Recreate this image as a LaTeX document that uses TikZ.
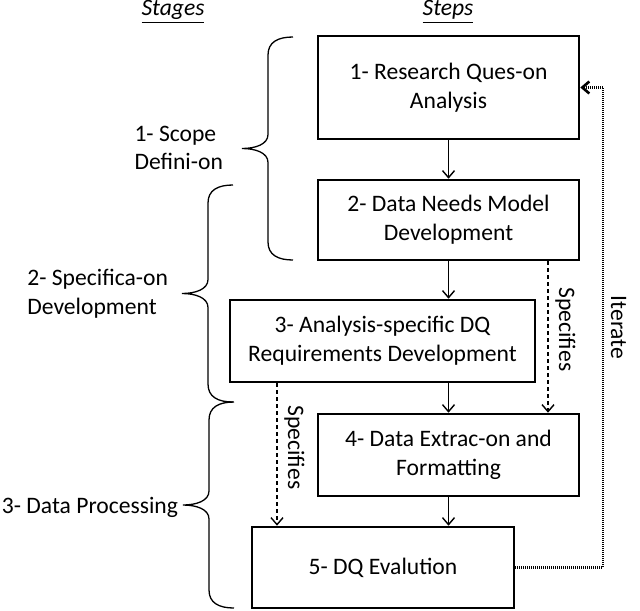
\documentclass[tikz,border=0pt]{standalone}
\usepackage{fontspec}
\setmainfont{Carlito}
\usetikzlibrary{arrows.meta,calc,positioning}

\begin{document}
\begin{tikzpicture}[x=0.5pt, y=-0.5pt, every node/.style={font=\fontsize{11.8}{14.4}\selectfont}]
  % Define styles
  \tikzset{stepbox/.style={draw, line width=1.3pt, align=center, inner sep=0pt},
           flow/.style={line width=0.7pt, -{Straight Barb[length=3.5pt,width=6pt]}},
           spec/.style={flow, dash pattern=on 2pt off 1.5pt},
           iterline/.style={flow, line width=1.3pt, dash pattern=on 0.5pt off 0.5pt},
           stagebrace/.style={line width=0.65pt}}
  \useasboundingbox (0,0) rectangle (640,610);

  % Headers
  \node (hd1) [anchor=base] at (173,16) {\underline{\textit{Stages}}};
  \node (hd2) [anchor=base] at (448,16) {\underline{\textit{Steps}}};

  % Steps
  \node (n1) [stepbox, minimum width=130.5pt, minimum height=51.5pt] at (448.5,87.5) {1- Research Ques-on\\Analysis};
  \node (n2) [stepbox, minimum width=130.5pt, minimum height=40pt] at (448.5,220) {2- Data Needs Model\\Development};
  \node (n3) [stepbox, minimum width=152.5pt, minimum height=41pt] at (382.5,341) {3- Analysis-specific DQ\\Requirements Development};
  \node (n4) [stepbox, minimum width=130.5pt, minimum height=41pt] at (448.5,455) {4- Data Extrac-on and\\Formatting};
  \node (n5) [stepbox, minimum width=131pt, minimum height=40.5pt] at (383,567.5) {5- DQ Evalution};

  % Define points
  \coordinate (sp1) at (548,0);
  \coordinate (sp2) at (277,0);
  \coordinate (it) at (603,87.5);

  % Draw flow
  \draw[flow] (n1) -- (n2);
  \draw[flow] (n2.south) -- (n2.south |- n3.north);
  \draw[flow] (n4.north |- n3.south) -- (n4.north);
  \draw[flow] (n4) -- (n4.south |- n5.north);
  \draw[spec] (n2.south -| sp1) -- node (lb1) [pos=0.45, rotate=-90, anchor=south] {Specifies} (n4.north -| sp1);
  \draw[spec] (n3.south -| sp2) -- node (lb2) [pos=0.45, rotate=-90, anchor=south] {Specifies} (n5.north -| sp2);
  \draw[iterline] (n5.east) -- (n5.east -| it) -- node (lb3) [midway, rotate=-90, anchor=south] {Iterate} (it) -- (n1.east);

  % Stages (x of arm ends / top / bottom)
  \foreach \bx/\bt/\bb in {293/37/260, 233/185/402, 234/402/608} {%
      \draw[stagebrace] (\bx,\bt)
          .. controls ({\bx-15},\bt) and ({\bx-25},{\bt+5}) .. ({\bx-25},{\bt+18})
          -- ({\bx-25},{(\bt+\bb)/2-14})
          .. controls ({\bx-25},{(\bt+\bb)/2-4}) and ({\bx-38},{(\bt+\bb)/2}) .. ({\bx-51},{(\bt+\bb)/2})
          .. controls ({\bx-38},{(\bt+\bb)/2}) and ({\bx-25},{(\bt+\bb)/2+4}) .. ({\bx-25},{(\bt+\bb)/2+14})
          -- ({\bx-25},{\bb-18})
          .. controls ({\bx-25},{\bb-5}) and ({\bx-15},\bb) .. (\bx,\bb);
  }

  \node (st1) [anchor=east, align=left] at (230,148) {1- Scope\\Defini-on};
  \node (st2) [anchor=east, align=left] at (175,294) {2- Specifica-on\\Development};
  \node (st3) [anchor=east] at (185,507) {3- Data Processing};
\end{tikzpicture}
\end{document}
